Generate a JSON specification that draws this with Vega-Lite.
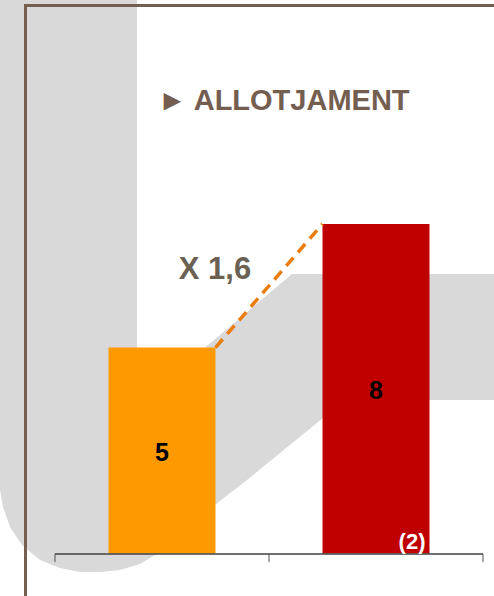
{
  "$schema": "https://vega.github.io/schema/vega-lite/v6.json",
  "width": 494,
  "height": 596,
  "autosize": "none",
  "padding": 0,
  "background": "white",
  "config": {"view": {"stroke": null}, "font": "Liberation Sans"},
  "datasets": {
    "shape": [
      {"i": 1, "px": -5, "py": -5},
      {"i": 2, "px": 137, "py": -5},
      {"i": 3, "px": 137, "py": 405},
      {"i": 4, "px": 208, "py": 345},
      {"i": 5, "px": 292, "py": 274},
      {"i": 6, "px": 500, "py": 274},
      {"i": 7, "px": 500, "py": 400},
      {"i": 8, "px": 345, "py": 400},
      {"i": 9, "px": 323, "py": 418},
      {"i": 10, "px": 247, "py": 480},
      {"i": 11, "px": 216, "py": 504},
      {"i": 12, "px": 185, "py": 530},
      {"i": 13, "px": 160, "py": 552},
      {"i": 14, "px": 140, "py": 564},
      {"i": 15, "px": 120, "py": 570},
      {"i": 16, "px": 100, "py": 572},
      {"i": 17, "px": 80, "py": 572},
      {"i": 18, "px": 60, "py": 568},
      {"i": 19, "px": 40, "py": 560},
      {"i": 20, "px": 22, "py": 545},
      {"i": 21, "px": 10, "py": 527},
      {"i": 22, "px": 3, "py": 507},
      {"i": 23, "px": 0, "py": 490},
      {"i": 24, "px": -5, "py": 470}
    ],
    "frame": [
      {"side": "top", "x1": 25, "y1": 5.5, "x2": 500, "y2": 5.5},
      {"side": "left", "x1": 25.5, "y1": 4, "x2": 25.5, "y2": 600}
    ],
    "bars": [
      {"periode": "1", "valor": 5},
      {"periode": "2", "valor": 8}
    ],
    "ratio": [
      {"de": "1", "a": "2", "v1": 5, "v2": 8}
    ]
  },
  "layer": [
    {
      "layer": [
        {
          "data": {"name": "shape"},
          "mark": {"type": "line", "fill": "#D9D9D9", "strokeWidth": 0, "stroke": "#D9D9D9"},
          "encoding": {
            "x": {"field": "px", "type": "quantitative", "scale": {"domain": [0, 494], "nice": false, "zero": false}, "axis": null},
            "y": {"field": "py", "type": "quantitative", "scale": {"domain": [0, 596], "nice": false, "zero": false, "reverse": true}, "axis": null},
            "order": {"field": "i", "type": "quantitative"}
          }
        },
        {
          "data": {"name": "frame"},
          "mark": {"type": "rule", "color": "#735E4F", "strokeWidth": 3},
          "encoding": {
            "x": {"field": "x1", "type": "quantitative"},
            "x2": {"field": "x2"},
            "y": {"field": "y1", "type": "quantitative"},
            "y2": {"field": "y2"}
          }
        },
        {
          "data": {"values": [{"t": "► ALLOTJAMENT"}]},
          "mark": {"type": "text", "align": "left", "baseline": "middle", "fontSize": 29, "fontWeight": "bold", "color": "#735E4F"},
          "encoding": {
            "text": {"field": "t"},
            "x": {"datum": 158, "type": "quantitative"},
            "y": {"datum": 101, "type": "quantitative"}
          }
        },
        {
          "data": {"values": [{"t": "X 1,6"}]},
          "mark": {"type": "text", "align": "center", "baseline": "middle", "fontSize": 31, "fontWeight": "bold", "color": "#6B6153"},
          "encoding": {
            "text": {"field": "t"},
            "x": {"datum": 215, "type": "quantitative"},
            "y": {"datum": 270, "type": "quantitative"}
          }
        }
      ]
    },
    {
      "encoding": {
        "x": {
          "field": "periode", "type": "nominal",
          "scale": {"domain": ["1", "2"], "range": [55, 483], "paddingInner": 0.5, "paddingOuter": 0.25},
          "axis": null
        },
        "y": {"field": "valor", "type": "quantitative", "scale": {"domain": [0, 8], "range": [553.5, 224], "nice": false}, "axis": null}
      },
      "layer": [
        {
          "data": {"name": "bars"},
          "mark": {"type": "bar"},
          "encoding": {
            "color": {"field": "periode", "type": "nominal", "scale": {"domain": ["1", "2"], "range": ["#FF9900", "#C00000"]}, "legend": null}
          }
        },
        {
          "data": {"values": [{"periode": "1", "valor": 0, "fi": "2"}]},
          "mark": {"type": "rule", "color": "#404040", "strokeWidth": 1.3, "yOffset": 0.5},
          "encoding": {
            "x": {"field": "periode", "type": "nominal", "bandPosition": -0.5},
            "x2": {"field": "fi", "bandPosition": 1.5}
          }
        },
        {
          "data": {"values": [{"periode": "1", "valor": 0}, {"periode": "2", "valor": 0}]},
          "mark": {"type": "tick", "orient": "vertical", "color": "#404040", "size": 8, "thickness": 1.3, "yOffset": 4.5},
          "encoding": {
            "x": {"field": "periode", "type": "nominal", "bandPosition": 1.5}
          }
        },
        {
          "data": {"values": [{"periode": "1", "valor": 0}]},
          "mark": {"type": "tick", "orient": "vertical", "color": "#404040", "size": 8, "thickness": 1.3, "yOffset": 4.5},
          "encoding": {
            "x": {"field": "periode", "type": "nominal", "bandPosition": -0.5}
          }
        },
        {
          "data": {"name": "ratio"},
          "mark": {"type": "rule", "color": "#E97E0E", "strokeWidth": 3.5, "strokeDash": [11, 7]},
          "encoding": {
            "x": {"field": "de", "type": "nominal", "bandPosition": 1},
            "x2": {"field": "a", "bandPosition": 0},
            "y": {"field": "v1", "type": "quantitative"},
            "y2": {"field": "v2"}
          }
        },
        {
          "data": {"name": "bars"},
          "transform": [{"calculate": "datum.valor / 2", "as": "mig"}],
          "mark": {"type": "text", "align": "center", "baseline": "middle", "fontSize": 25, "fontWeight": "bold", "color": "black", "dy": 2},
          "encoding": {
            "text": {"field": "valor", "type": "quantitative"},
            "y": {"field": "mig", "type": "quantitative"}
          }
        },
        {
          "data": {"values": [{"periode": "2", "nota": "(2)", "valor": 0}]},
          "mark": {"type": "text", "align": "right", "baseline": "alphabetic", "fontSize": 22, "fontWeight": "bold", "color": "white", "dx": -4, "dy": -5},
          "encoding": {
            "text": {"field": "nota"},
            "x": {"field": "periode", "type": "nominal", "bandPosition": 1}
          }
        }
      ]
    }
  ],
  "resolve": {"scale": {"x": "independent", "y": "independent", "color": "independent"}}
}
